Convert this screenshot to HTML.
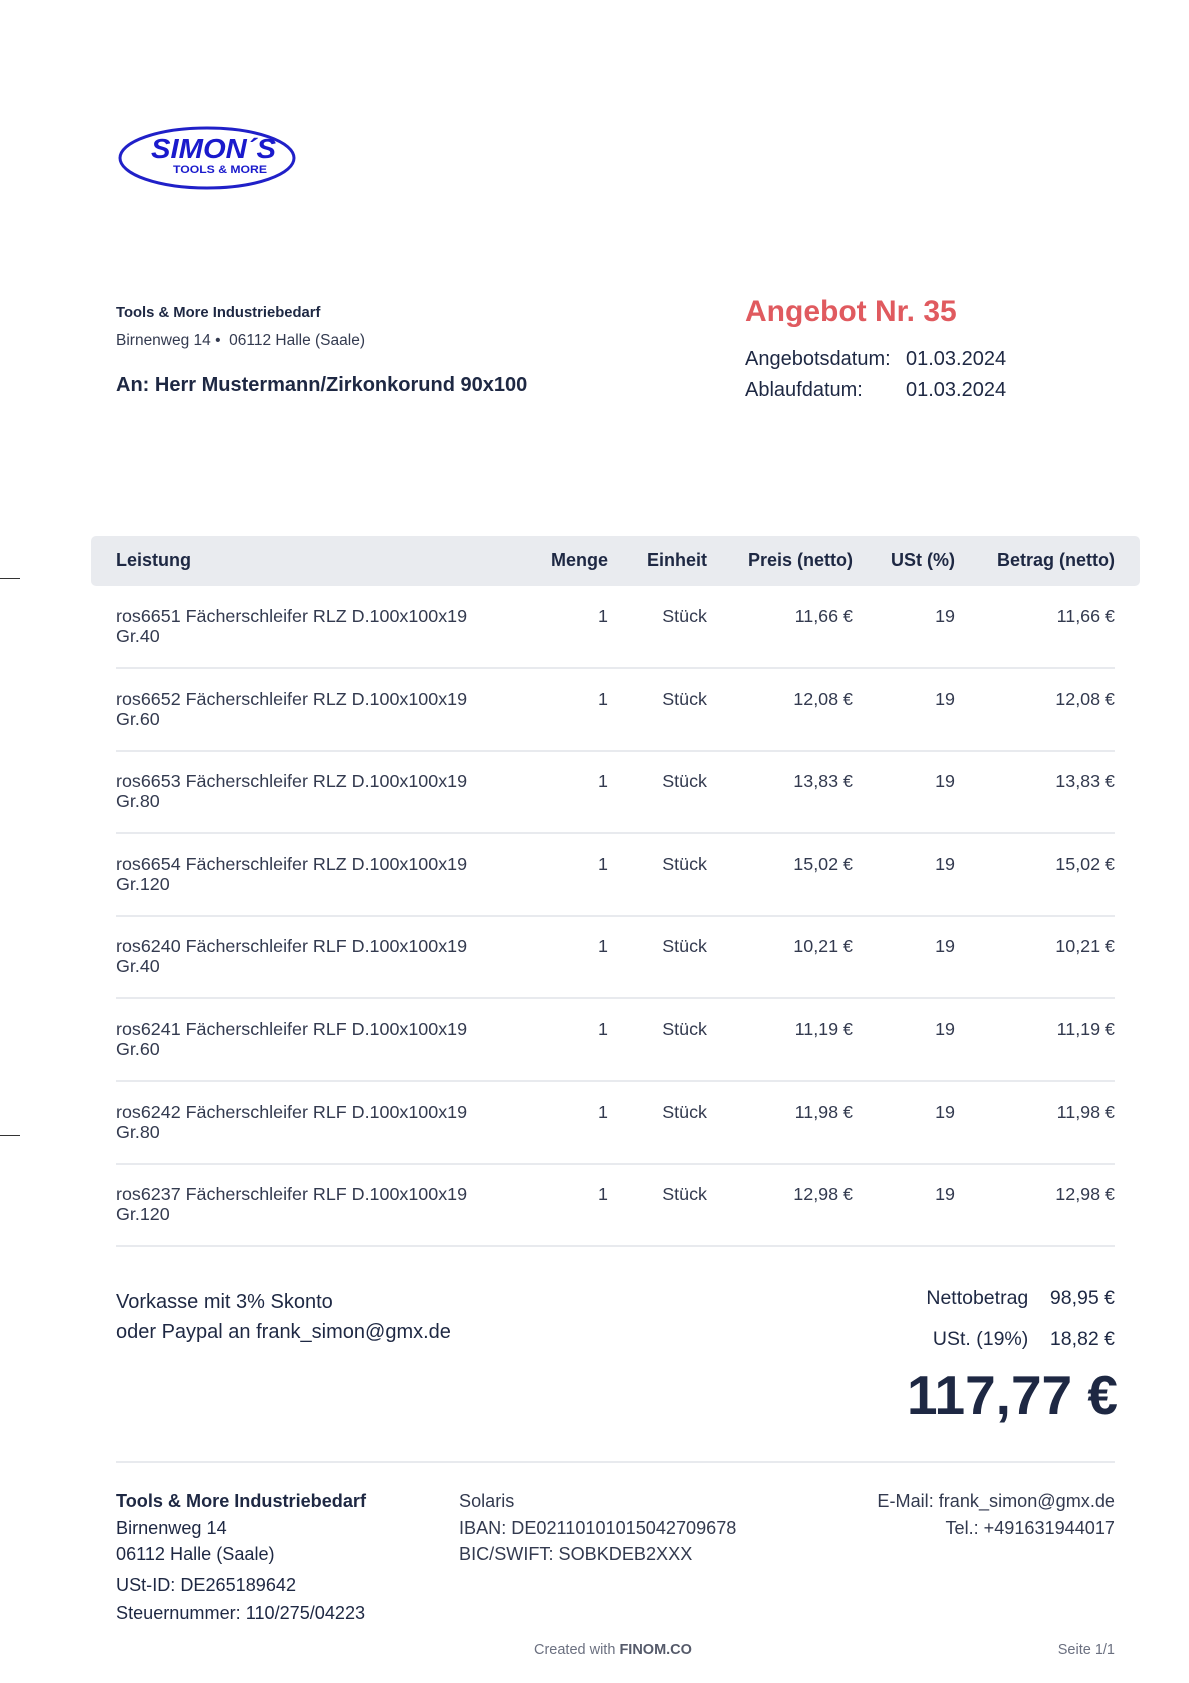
<!DOCTYPE html>
<html><head><meta charset="utf-8"><style>
*{margin:0;padding:0;box-sizing:border-box}
body{width:1189px;height:1683px;background:#fff;position:relative;font-family:"Liberation Sans",sans-serif;color:#1e2843;overflow:hidden}
.a{position:absolute;white-space:nowrap;line-height:1.15}
.r{text-align:right}
.b{font-weight:bold}
.sep{position:absolute;left:116px;width:999px;height:2px;background:#e8eaee}
</style></head><body>
<svg class="a" style="left:117px;top:124px" width="182" height="70" viewBox="0 0 182 70">
<ellipse cx="90" cy="34" rx="87" ry="30" fill="none" stroke="#2020c8" stroke-width="3"/>
<text x="34" y="34" font-family="Liberation Sans" font-weight="bold" font-style="italic" font-size="28" fill="#1a1acc" textLength="125" lengthAdjust="spacingAndGlyphs">SIMON´S</text>
<text x="56" y="49" font-family="Liberation Sans" font-weight="bold" font-size="11" fill="#1a1acc" textLength="94" lengthAdjust="spacingAndGlyphs">TOOLS &amp; MORE</text>
</svg>
<div class="a" style="left:0;top:578px;width:20px;height:1px;background:#333"></div>
<div class="a" style="left:0;top:1135px;width:20px;height:1px;background:#333"></div>

<div class="a b" style="left:116px;top:305px;font-size:14.8px">Tools &amp; More Industriebedarf</div>
<div class="a" style="left:116px;top:332px;font-size:15.5px;color:#333a4f">Birnenweg 14 •&nbsp; 06112 Halle (Saale)</div>
<div class="a b" style="left:116px;top:374px;font-size:20px">An: Herr Mustermann/Zirkonkorund 90x100</div>

<div class="a b" style="left:745px;top:295px;font-size:30px;color:#e05a5f">Angebot Nr. 35</div>
<div class="a" style="left:745px;top:348px;font-size:20px">Angebotsdatum:</div>
<div class="a" style="left:906px;top:348px;font-size:20px">01.03.2024</div>
<div class="a" style="left:745px;top:379px;font-size:20px">Ablaufdatum:</div>
<div class="a" style="left:906px;top:379px;font-size:20px">01.03.2024</div>

<div class="a" style="left:91px;top:536px;width:1049px;height:50px;background:#e9ebef;border-radius:5px"></div>
<div class="a b" style="left:116px;top:550px;font-size:18px">Leistung</div>
<div class="a b r" style="right:581px;top:550px;font-size:18px">Menge</div>
<div class="a b r" style="right:482px;top:550px;font-size:18px">Einheit</div>
<div class="a b r" style="right:336px;top:550px;font-size:18px">Preis (netto)</div>
<div class="a b r" style="right:234px;top:550px;font-size:18px">USt (%)</div>
<div class="a b r" style="right:74px;top:550px;font-size:18px">Betrag (netto)</div>

<div id="rows"></div>
<script>
var d=[["ros6651 Fächerschleifer RLZ D.100x100x19","Gr.40","11,66 €"],["ros6652 Fächerschleifer RLZ D.100x100x19","Gr.60","12,08 €"],["ros6653 Fächerschleifer RLZ D.100x100x19","Gr.80","13,83 €"],["ros6654 Fächerschleifer RLZ D.100x100x19","Gr.120","15,02 €"],["ros6240 Fächerschleifer RLF D.100x100x19","Gr.40","10,21 €"],["ros6241 Fächerschleifer RLF D.100x100x19","Gr.60","11,19 €"],["ros6242 Fächerschleifer RLF D.100x100x19","Gr.80","11,98 €"],["ros6237 Fächerschleifer RLF D.100x100x19","Gr.120","12,98 €"]];
var h="";
d.forEach(function(r,i){var y=606+i*82.6;var s='font-size:17.9px;top:'+y+'px;';
h+='<div class="a" style="left:116px;'+s+'color:#333a4f;line-height:20px">'+r[0]+'<br>'+r[1]+'</div>';
h+='<div class="a r" style="right:581px;'+s+'color:#333a4f">1</div>';
h+='<div class="a r" style="right:482px;'+s+'color:#333a4f">Stück</div>';
h+='<div class="a r" style="right:336px;'+s+'color:#333a4f">'+r[2]+'</div>';
h+='<div class="a r" style="right:234px;'+s+'color:#333a4f">19</div>';
h+='<div class="a r" style="right:74px;'+s+'color:#333a4f">'+r[2]+'</div>';
h+='<div class="sep" style="top:'+(667+i*82.6)+'px"></div>';});
document.getElementById('rows').innerHTML=h;
</script>

<div class="a" style="left:116px;top:1287px;font-size:20px;line-height:30px">Vorkasse mit 3% Skonto<br>oder Paypal an frank_simon@gmx.de</div>
<div class="a r" style="right:74px;top:1287px;font-size:19.5px">Nettobetrag&nbsp;&nbsp;&nbsp; 98,95 €</div>
<div class="a r" style="right:74px;top:1328px;font-size:19.5px">USt. (19%)&nbsp;&nbsp;&nbsp; 18,82 €</div>
<div class="a r b" style="right:71px;top:1364px;font-size:55px">117,77 €</div>

<div class="sep" style="top:1461px"></div>

<div class="a" style="left:116px;top:1488px;font-size:18.1px;line-height:26.5px"><b>Tools &amp; More Industriebedarf</b><br>Birnenweg 14<br>06112 Halle (Saale)</div>
<div class="a" style="left:116px;top:1572px;font-size:18.1px;line-height:27.5px">USt-ID: DE265189642<br>Steuernummer: 110/275/04223</div>
<div class="a" style="left:459px;top:1488px;font-size:18.1px;line-height:26.5px;color:#333a4f">Solaris<br>IBAN: DE02110101015042709678<br>BIC/SWIFT: SOBKDEB2XXX</div>
<div class="a r" style="right:74px;top:1488px;font-size:18.1px;line-height:26.5px;color:#333a4f">E-Mail: frank_simon@gmx.de<br>Tel.: +491631944017</div>

<div class="a" style="left:534px;top:1642px;font-size:14.5px;color:#6b7080">Created with <b style="color:#555a6a">FINOM.CO</b></div>
<div class="a r" style="right:74px;top:1642px;font-size:14.5px;color:#6b7080">Seite 1/1</div>
</body></html>
